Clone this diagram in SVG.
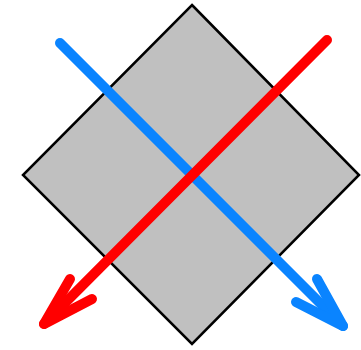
<svg xmlns="http://www.w3.org/2000/svg" width="361" height="350" viewBox="0 0 361 350">
<style>
.arr{fill:none;stroke-width:10;stroke-linecap:round;stroke-linejoin:round}
.blue{stroke:#0A84FF}
.red{stroke:#FF0000}
</style>
<rect width="361" height="350" fill="#FFFFFF"/>
<g id="diamond">
<polygon points="192,5 359,175 192,344 23,175" fill="#C0C0C0" stroke="#000000" stroke-width="2.5"/>
</g>
<g id="connectors">
<g id="blue-arrow">
<path class="arr blue" d="M60,43 L343,326"/>
<path class="arr blue" d="M317,279 L343,326 L296,302"/>
</g>
<g id="red-arrow">
<path class="arr red" d="M327,40 L44,324"/>
<path class="arr red" d="M70,279 L44,324 L92,299"/>
</g>
</g>
</svg>
